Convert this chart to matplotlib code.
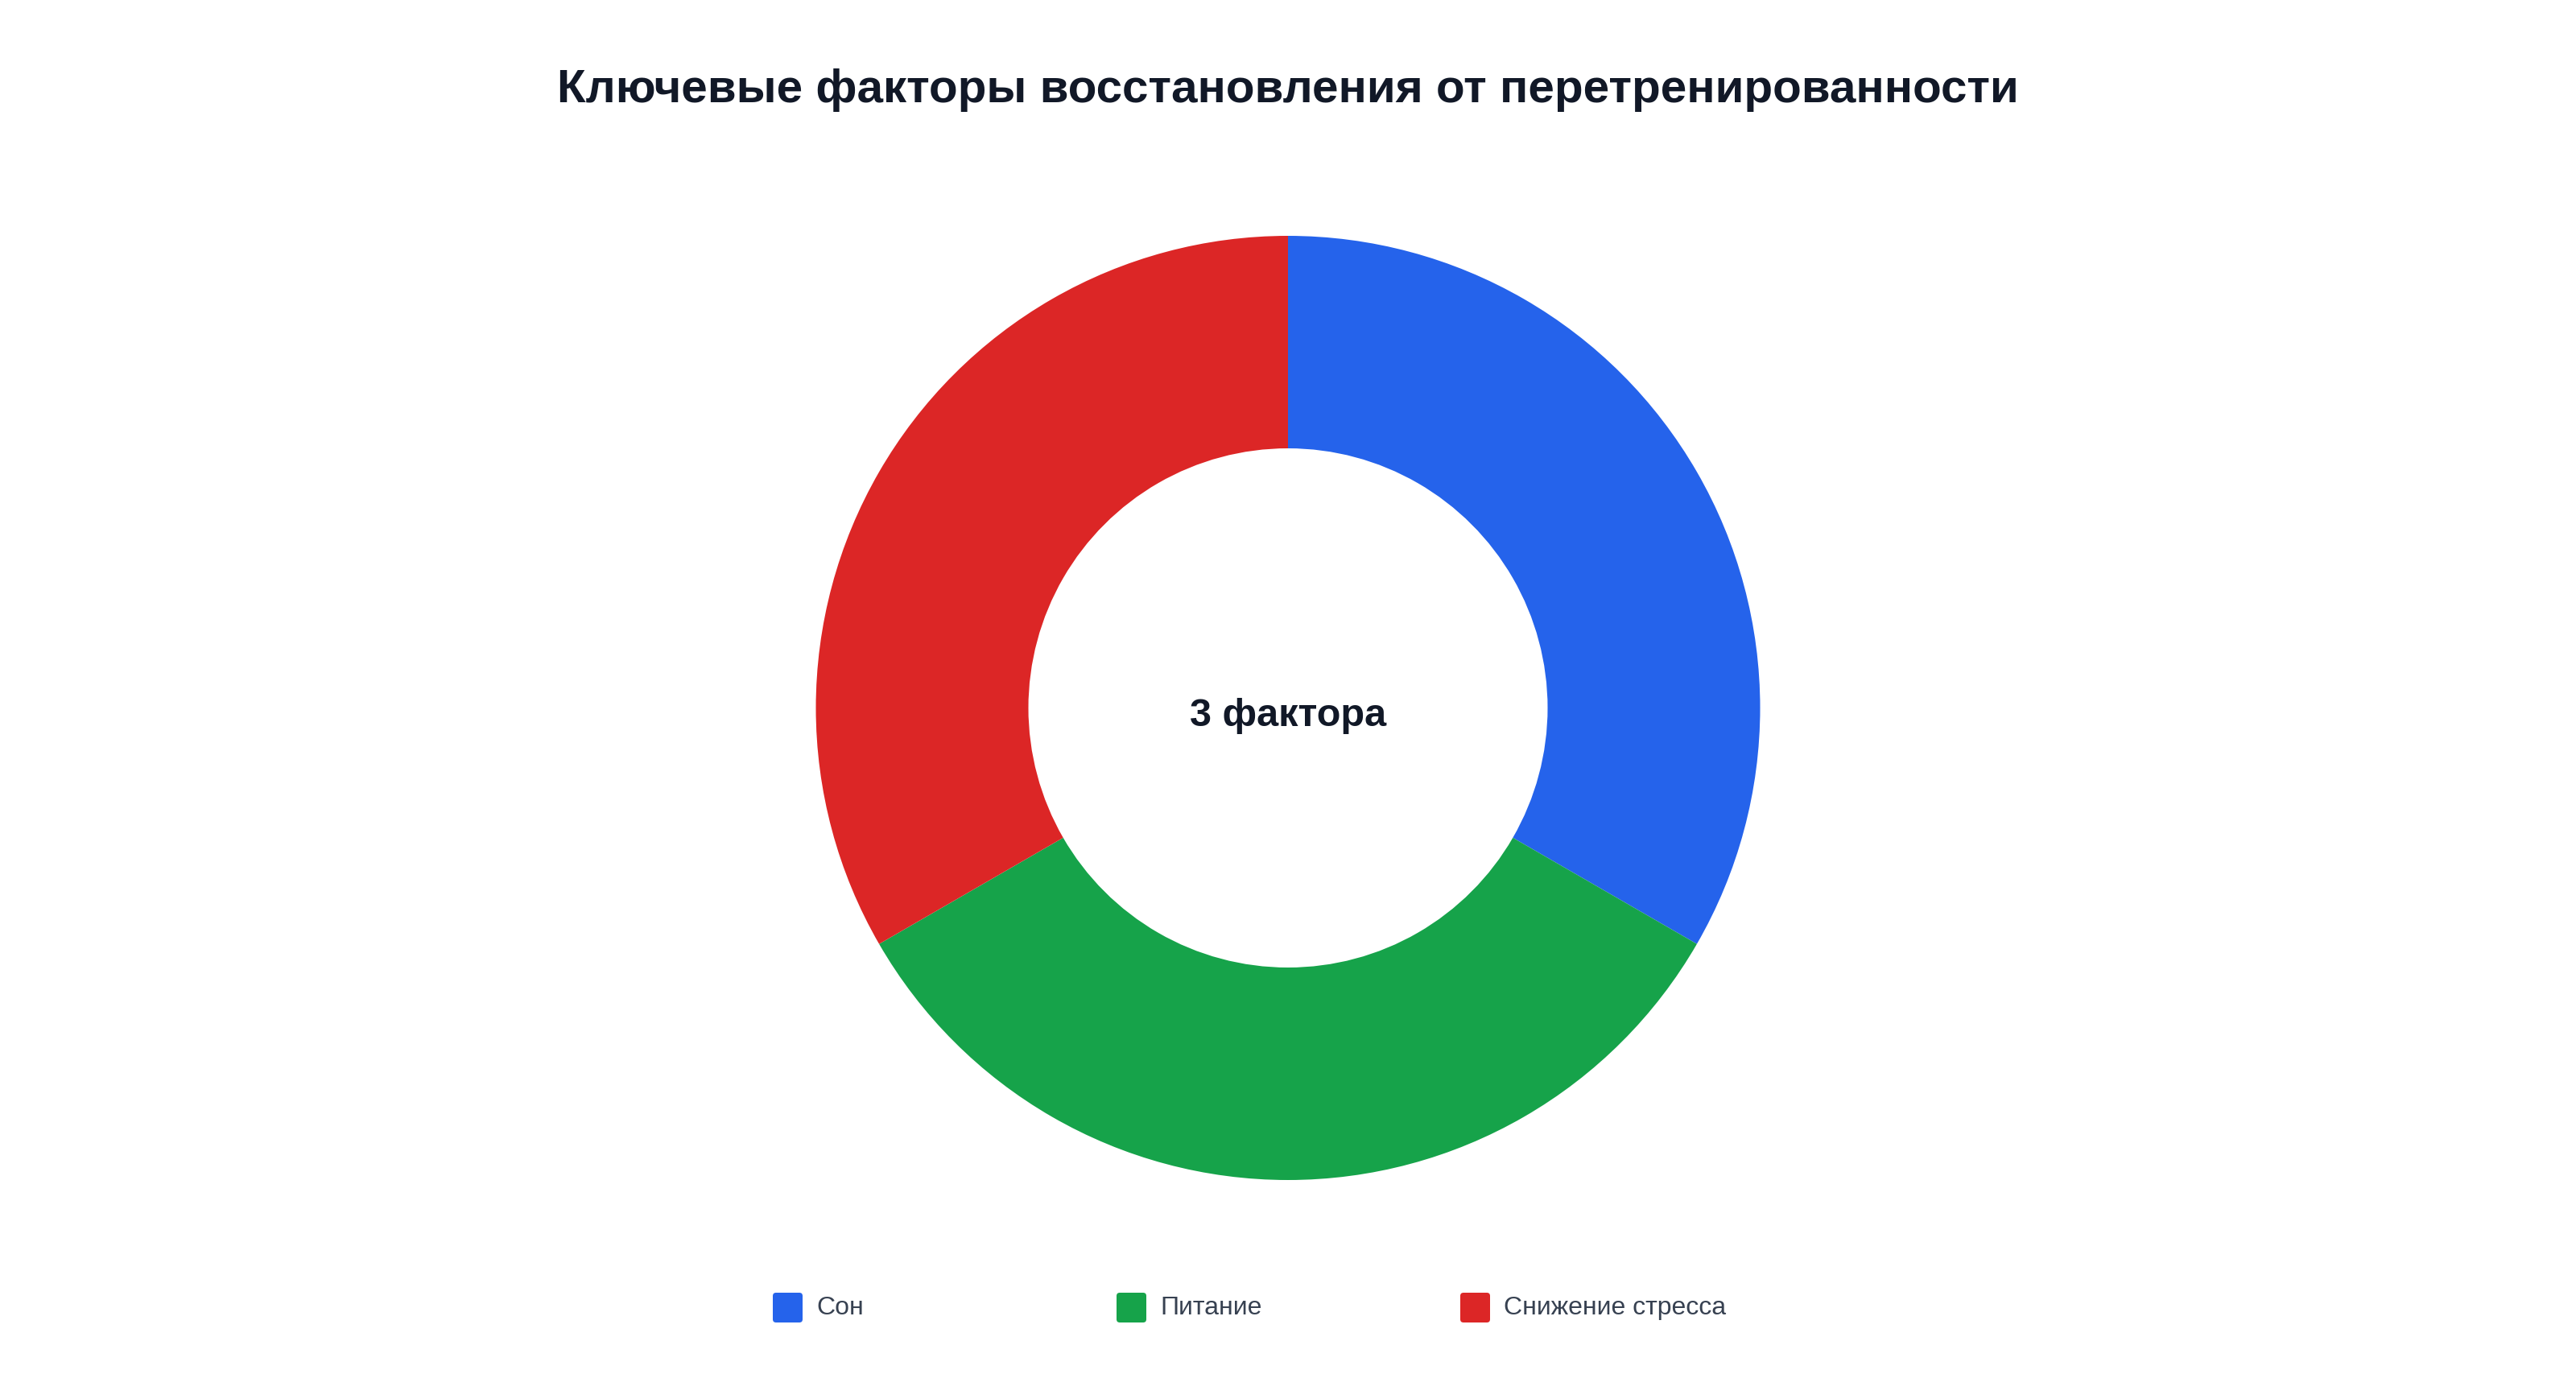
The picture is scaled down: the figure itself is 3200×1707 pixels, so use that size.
import matplotlib
matplotlib.use("Agg")
import matplotlib.pyplot as plt
from matplotlib.patches import FancyBboxPatch

plt.rcParams['font.family'] = ['Liberation Sans', 'DejaVu Sans']

title = "Ключевые факторы восстановления от перетренированности"
center_label = "3 фактора"
labels = ["Сон", "Питание", "Снижение стресса"]
values = [1, 1, 1]
colors = ["#2563EB", "#16A34A", "#DC2626"]

W, H = 3200, 1707
fig = plt.figure(figsize=(W / 100, H / 100), dpi=100)
fig.patch.set_facecolor("white")

ax = fig.add_axes([0, 0, 1, 1])
ax.set_xlim(0, W)
ax.set_ylim(0, H)
ax.set_aspect("equal")
ax.axis("off")

cx, cy = 1600, H - 879.5
R, r = 586.5, 322.5
ax.pie(values, colors=colors, startangle=90, counterclock=False,
       radius=R, center=(cx, cy), frame=True,
       wedgeprops=dict(width=R - r, edgecolor="none", linewidth=0, antialiased=True))
ax.set_xlim(0, W)
ax.set_ylim(0, H)
ax.axis("off")

ax.text(1600, H - 127, title, ha="center", va="baseline", fontsize=42,
        fontweight="bold", color="#111827")
ax.text(cx, H - 902, center_label, ha="center", va="baseline", fontsize=35,
        fontweight="bold", color="#111827")

x0, step = 960, 427
sq = 37
for i, (lab, col) in enumerate(zip(labels, colors)):
    x = x0 + i * step
    box = FancyBboxPatch((x + 4, H - 1643 + 4), sq - 8, sq - 8,
                         boxstyle="round,pad=4", facecolor=col, edgecolor="none")
    ax.add_patch(box)
    ax.text(x + 54, H - 1633, lab, ha="left", va="baseline", fontsize=23,
            color="#374151")

fig.savefig("out.png", dpi=100, facecolor="white")
